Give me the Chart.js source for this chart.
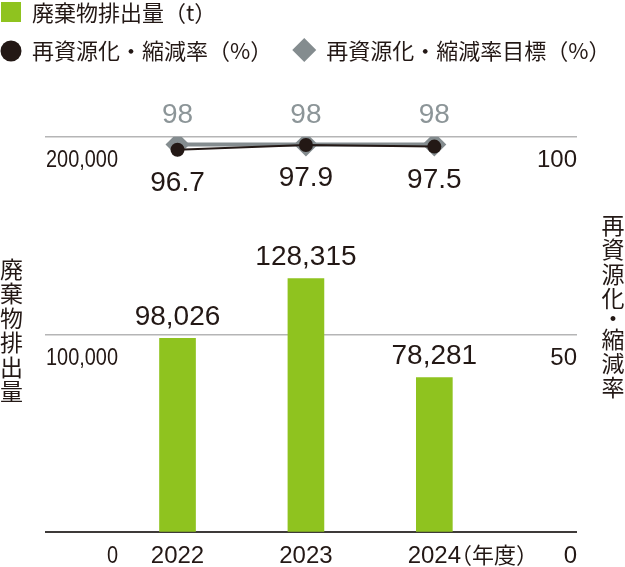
<!DOCTYPE html>
<html>
<head>
<meta charset="utf-8">
<script src="https://cdn.jsdelivr.net/npm/chart.js@4.4.1/dist/chart.umd.min.js"></script>
<style>
html,body{margin:0;padding:0;background:#fff;}
#wrap{width:625px;height:567px;position:relative;}
</style>
</head>
<body>
<div id="wrap"><canvas id="c"></canvas></div>
<script>
// ---- data ----
const years = [2022, 2023, 2024];
const yearLabels = ['2022', '2023', '2024'];
const yearSuffix = '（年度）';
const wasteTonnes = [98026, 128315, 78281];
const recycleRate = [96.7, 97.9, 97.5];
const recycleTarget = [98, 98, 98];
const leftTicks = [0, 100000, 200000];
const rightTicks = [0, 50, 100];
const seriesNames = ['廃棄物排出量（t）', '再資源化・縮減率（%）', '再資源化・縮減率目標（%）'];
const leftTitle = '廃棄物排出量';
const rightTitle = '再資源化・縮減率';

// ---- styles ----
const TEXT = '#231815';
const GREEN = '#8fc31f';
const DARK = '#231815';
const GRAY = '#848c8f';
const GRAY_LABEL = '#8c9598';
const GRID = '#b5b5b6';
const AXIS = '#3e3a39';
const NUM = '"Liberation Sans", Arial, Helvetica, sans-serif';
const CJK = '"Noto Sans CJK JP", "Noto Sans CJK SC", sans-serif';
const LEFT_LABEL_RIGHT_EDGE = 118;
const LEFT_LABEL_SQUEEZE = 0.83;

Chart.defaults.font.family = NUM;
Chart.defaults.color = TEXT;

const valueLabels = {
  id: 'valueLabels',
  afterDatasetsDraw(chart) {
    const ctx = chart.ctx;
    ctx.save();
    ctx.textAlign = 'center';
    ctx.textBaseline = 'alphabetic';
    ctx.font = '28px ' + NUM;
    chart.data.datasets.forEach((ds, di) => {
      const meta = chart.getDatasetMeta(di);
      meta.data.forEach((el, i) => {
        const v = ds.data[i].y;
        let txt, y, color;
        if (di === 0) { txt = v.toLocaleString('en-US'); y = el.y - 13; color = TEXT; }
        else if (di === 1) { txt = v.toFixed(1); y = el.y + 41; color = TEXT; }
        else { txt = String(v); y = el.y - 22; color = GRAY_LABEL; }
        ctx.fillStyle = color;
        ctx.fillText(txt, el.x, y);
      });
    });
    ctx.restore();
  }
};

// condensed look for the left tick labels (drawn by the scale itself)
const narrowLeftTicks = {
  id: 'narrowLeftTicks',
  afterLayout(chart) {
    const s = chart.scales.y;
    if (!s || s._narrowPatched) return;
    const orig = s.drawLabels;
    s.drawLabels = function (area) {
      const ctx = this.ctx;
      const f = this.options.ticks.font;
      ctx.save();
      ctx.font = (f.size || 24) + 'px ' + (f.family || NUM);
      let widest = 0;
      this.ticks.forEach(t => { widest = Math.max(widest, ctx.measureText(String(t.label)).width); });
      const x0 = this.right + this.options.ticks.padding + widest;
      ctx.translate(LEFT_LABEL_RIGHT_EDGE, 0);
      ctx.scale(LEFT_LABEL_SQUEEZE, 1);
      ctx.translate(-x0, 0);
      orig.call(this, area);
      ctx.restore();
    };
    s._narrowPatched = true;
  }
};

function drawVertical(ctx, str, x, top) {
  let y = top;
  for (const ch of str) {
    const h = ch === '・' ? 16 : 24.4;
    ctx.fillText(ch, x, y + h / 2);
    y += h;
  }
}

const decorations = {
  id: 'decorations',
  afterDraw(chart) {
    const ctx = chart.ctx;
    const ds = chart.data.datasets;
    ctx.save();
    // legend
    ctx.font = '22px ' + CJK;
    ctx.textAlign = 'left';
    ctx.textBaseline = 'middle';
    ctx.fillStyle = ds[0].backgroundColor;
    ctx.fillRect(1, 2, 20, 20);
    ctx.fillStyle = TEXT;
    ctx.fillText(ds[0].label, 32, 13);

    ctx.fillStyle = ds[1].pointBackgroundColor;
    ctx.beginPath();
    ctx.arc(11, 51, 10.5, 0, Math.PI * 2);
    ctx.fill();
    ctx.fillStyle = TEXT;
    ctx.fillText(ds[1].label, 32, 51);
    const w1 = ctx.measureText(ds[1].label).width;
    const mx = 32 + w1 + 32;
    ctx.fillStyle = ds[2].pointBackgroundColor;
    ctx.beginPath();
    ctx.moveTo(mx - 12, 50); ctx.lineTo(mx, 38); ctx.lineTo(mx + 12, 50); ctx.lineTo(mx, 62);
    ctx.closePath();
    ctx.fill();
    ctx.fillStyle = TEXT;
    ctx.fillText(ds[2].label, mx + 22, 51);

    // vertical axis titles
    ctx.font = '23px ' + CJK;
    ctx.textAlign = 'center';
    ctx.textBaseline = 'middle';
    drawVertical(ctx, leftTitle, 11.5, 257);
    drawVertical(ctx, rightTitle, 613, 213);

    // year suffix
    const xs = chart.scales.x;
    const px = xs.getPixelForValue(years[years.length - 1]);
    ctx.font = '24px ' + NUM;
    const w = ctx.measureText(yearLabels[yearLabels.length - 1]).width;
    ctx.font = '22px ' + CJK;
    ctx.textAlign = 'left';
    ctx.fillText(yearSuffix, px + w / 2 - 11, xs.top + 22);
    ctx.restore();
  }
};

new Chart(document.getElementById('c'), {
  type: 'bar',
  data: {
    datasets: [
      {
        type: 'bar', label: seriesNames[0], yAxisID: 'y',
        data: years.map((x, i) => ({ x: x, y: wasteTonnes[i] })),
        backgroundColor: GREEN, borderWidth: 0, barThickness: 36
      },
      {
        type: 'line', label: seriesNames[1], yAxisID: 'y1',
        data: years.map((x, i) => ({ x: x, y: recycleRate[i] })),
        borderColor: DARK, borderWidth: 2, tension: 0, fill: false,
        pointStyle: 'circle', pointRadius: 7, pointBackgroundColor: DARK, pointBorderWidth: 0
      },
      {
        type: 'line', label: seriesNames[2], yAxisID: 'y1',
        data: years.map((x, i) => ({ x: x, y: recycleTarget[i] })),
        borderColor: GRAY, borderWidth: 4, tension: 0, fill: false,
        pointStyle: 'rectRot', pointRadius: 12, pointBackgroundColor: GRAY, pointBorderWidth: 0
      }
    ]
  },
  options: {
    responsive: true,
    maintainAspectRatio: false,
    animation: false,
    layout: { padding: { top: 136.7, left: 45, right: 48, bottom: 0 } },
    plugins: { legend: { display: false }, tooltip: { enabled: false }, title: { display: false } },
    scales: {
      x: {
        type: 'linear', min: 2020.968, max: 2025.111, offset: false,
        grid: { display: false, drawTicks: false }, border: { display: false },
        afterBuildTicks: s => { s.ticks = years.map(v => ({ value: v })); },
        afterFit: s => { s.height = 34.7; },
        ticks: {
          font: { size: 24, family: NUM }, color: TEXT, padding: 10,
          maxRotation: 0, autoSkip: false,
          callback: v => yearLabels[years.indexOf(v)]
        }
      },
      y: {
        type: 'linear', position: 'left', min: 0, max: 200000,
        afterBuildTicks: s => { s.ticks = leftTicks.map(v => ({ value: v })); },
        afterFit: s => { s.width = 0; },
        grid: {
          drawTicks: false,
          color: c => (c.tick && c.tick.value === 0) ? AXIS : GRID,
          lineWidth: c => (c.tick && c.tick.value === 0) ? 2 : 1.5
        },
        border: { display: false },
        ticks: {
          mirror: true, crossAlign: 'far', padding: 2, labelOffset: 24,
          font: { size: 24, family: NUM }, color: TEXT, autoSkip: false,
          callback: v => v.toLocaleString('en-US')
        }
      },
      y1: {
        type: 'linear', position: 'right', min: 0, max: 100,
        afterBuildTicks: s => { s.ticks = rightTicks.map(v => ({ value: v })); },
        afterFit: s => { s.width = 0; },
        grid: { display: false, drawTicks: false },
        border: { display: false },
        ticks: {
          mirror: true, padding: 0, labelOffset: 24,
          font: { size: 24, family: NUM }, color: TEXT, autoSkip: false,
          callback: v => String(v)
        }
      }
    }
  },
  plugins: [valueLabels, narrowLeftTicks, decorations]
});
</script>
</body>
</html>
